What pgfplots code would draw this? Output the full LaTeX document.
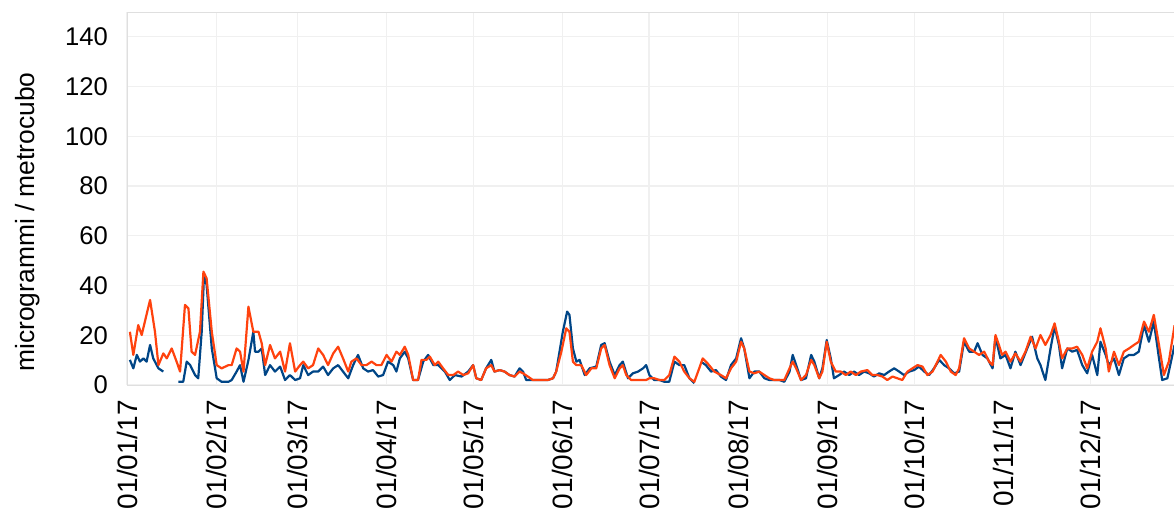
\documentclass[border=0pt]{standalone}
\usepackage{fontspec}
\setmainfont{Liberation Sans}
\usepackage{pgfplots}
\pgfplotsset{compat=1.18}
\definecolor{lblue}{HTML}{004586}
\definecolor{lorange}{HTML}{FF420E}
\begin{document}
\begin{tikzpicture}
\begin{axis}[
  scale only axis,
  width=523.5pt, height=186.5pt,
  xmin=0, xmax=363, ymin=0, ymax=150,
  axis line style={gray!25},
  ytick={0,20,...,140},
  xtick={0,31,59,90,120,151,181,212,243,273,304,334},
  xticklabels={01/01/17,01/02/17,01/03/17,01/04/17,01/05/17,01/06/17,01/07/17,01/08/17,01/09/17,01/10/17,01/11/17,01/12/17},
  xticklabel style={rotate=90, anchor=east, font=\fontsize{14}{16}\selectfont},
  yticklabel style={font=\fontsize{12.8}{15}\selectfont, xshift=-6pt},
  xticklabel shift=4pt,
  major tick length=0pt,
  grid=major,
  major grid style={gray!12, line width=0.6pt},
  ylabel={microgrammi / metrocubo},
  every axis y label/.style={at={(axis description cs:-0.0946,0.437)}, rotate=90, anchor=center, font=\fontsize{13.2}{15}\selectfont},
  /pgf/number format/assume math mode=true,
  unbounded coords=jump,
  clip=true,
  every axis plot/.append style={line width=1.1pt, line join=round, no markers},
]
\addplot[lblue] coordinates {
(1.0,10.1)(2.2,6.7)(3.4,12.1)(4.5,9.4)(5.7,10.7)(6.8,9.4)(8.0,16.1)(9.1,10.7)(10.9,6.7)(12.6,5.4)(13.5,nan)
(17.8,1.3)(19.5,1.3)(20.7,9.4)(21.9,8.0)(23.6,4.0)(24.7,2.7)(25.9,21.4)(26.7,44.2)(27.6,40.2)(29.4,14.7)
(31.1,2.7)(32.8,1.3)(35.2,1.3)(36.3,2.0)(38.0,5.4)(39.2,8.0)(40.4,1.3)(42.1,10.0)(43.8,21.4)(44.4,13.4)
(45.6,13.4)(46.7,14.7)(47.9,4.0)(49.6,8.0)(51.3,5.4)(53.1,7.4)(54.8,2.0)(56.5,4.0)(58.3,2.0)(60.0,2.7)
(61.1,8.0)(62.8,4.0)(64.5,5.4)(66.3,5.4)(68.0,7.4)(69.7,4.0)(71.5,6.7)(73.2,8.0)(74.9,5.4)(76.7,2.7)
(78.4,8.0)(80.1,12.1)(81.9,6.7)(83.6,5.4)(85.3,6.0)(87.1,3.4)(88.8,4.0)(90.5,9.4)(92.3,8.0)(93.4,5.4)
(94.6,10.7)(96.3,13.4)(97.5,10.7)(99.2,2.0)(100.9,2.0)(102.7,9.4)(104.4,12.1)(106.2,8.0)(107.9,8.0)
(110.2,5.4)(111.9,2.0)(113.7,4.0)(116.0,3.4)(118.3,5.4)(120.0,8.0)
(121.1,2.7)(122.8,2.0)(124.5,6.7)(126.3,10.1)(127.4,5.4)(129.2,6.0)(130.9,5.4)(132.6,4.0)(134.4,3.4)
(136.1,6.7)(137.3,5.4)(138.4,2.0)(140.7,2.0)(142.5,2.0)(144.2,2.0)(145.9,2.0)(147.7,2.7)(148.8,5.4)
(151.1,21.4)(152.6,29.5)(153.4,28.2)(154.6,14.7)(155.8,9.4)(156.9,10.1)(158.7,4.0)(160.4,6.7)(162.7,7.4)
(164.4,16.1)(165.6,16.8)(167.3,9.4)(169.1,4.0)(170.8,8.0)(171.9,9.4)(173.7,2.7)(175.4,4.7)(177.2,5.4)
(178.9,6.7)(180.0,8.0)
(181.1,4.0)(182.8,2.0)(184.6,2.0)(186.3,1.3)(188.0,1.3)(189.8,9.4)(191.5,8.0)(193.2,8.0)(195.0,2.7)
(196.7,0.7)(197.8,nan)(199.0,9.4)(200.7,8.0)(202.5,5.4)(204.2,6.0)(205.9,3.4)(207.7,2.0)(209.4,8.0)(211.2,10.7)
(212.9,18.8)(214.0,14.7)(215.8,2.7)(217.5,5.4)(219.2,5.4)(221.0,2.7)(222.7,2.0)(224.4,2.0)(226.2,2.0)
(227.9,1.3)(229.7,5.4)(230.8,12.1)(232.0,8.0)(233.7,2.0)(235.4,2.7)(237.2,12.1)(238.3,9.4)(240.0,2.7)
(241.1,6.7)(242.6,18.1)(244.0,10.7)(245.1,2.7)(246.9,4.0)(248.6,5.4)(250.4,4.0)(252.1,5.4)(253.8,4.0)
(255.6,5.4)(257.3,4.7)(259.0,3.4)(260.8,4.7)(262.5,4.0)(264.2,5.4)(266.0,6.7)(267.7,5.4)(269.4,4.0)
(271.2,5.4)(272.9,6.0)(274.6,7.4)(276.4,5.4)(278.1,4.0)(279.8,6.7)(281.6,10.1)(283.3,8.0)(285.0,6.7)
(286.8,4.7)(288.5,5.4)(290.2,17.4)(292.0,13.4)(293.7,13.4)(294.9,16.8)(296.6,12.1)(298.3,10.7)(300.1,6.7)
(301.1,19.4)(302.8,10.7)(304.6,12.1)(306.3,6.7)(308.0,13.4)(309.8,8.0)(312.1,14.7)(313.8,19.4)(315.6,10.7)
(316.7,8.0)(318.4,2.0)(320.2,14.7)(321.6,23.5)(323.1,16.1)(324.2,6.7)(326.0,14.7)(327.7,13.4)(329.4,14.1)
(331.2,8.0)(332.9,4.7)(334.6,12.1)(336.4,4.0)(337.5,17.4)(339.3,12.1)(340.4,8.0)(342.2,10.7)(343.9,4.0)
(345.6,10.7)(347.4,12.1)(349.1,12.1)(350.8,13.4)(352.6,24.1)(354.3,17.4)(356.0,25.5)(357.8,10.7)(358.9,2.0)
(360.7,2.7)(363.2,16.1)
};
\addplot[lorange] coordinates {
(1.0,21.4)(2.2,12.1)(3.9,24.1)(5.1,20.1)(6.2,25.5)(8.0,34.2)(9.7,21.4)(10.9,8.0)(12.6,12.7)(13.8,10.7)
(15.5,14.7)(17.2,9.4)(18.4,5.4)(20.1,32.2)(21.3,30.8)(22.4,13.4)(23.6,12.1)(25.3,21.4)(26.5,45.6)(27.6,42.9)
(29.4,21.4)(31.1,8.0)(32.8,6.7)(35.2,8.0)(36.3,8.0)(38.0,14.7)(39.2,13.4)(40.4,5.4)(42.1,31.5)(43.8,21.4)
(45.6,21.4)(46.7,16.8)(47.9,8.0)(49.6,16.1)(51.3,10.7)(53.1,13.4)(54.8,5.4)(56.5,16.8)(58.3,5.4)(60.0,8.0)
(61.1,9.4)(62.8,6.7)(64.5,8.0)(66.3,14.7)(68.0,12.1)(69.7,8.0)(71.5,12.7)(73.2,15.4)(74.9,10.7)(76.7,5.4)
(77.8,9.4)(79.6,10.7)(81.3,8.0)(83.0,8.0)(84.8,9.4)(86.5,8.0)(88.2,8.0)(90.0,12.1)(91.7,9.4)(93.4,13.4)
(94.6,12.1)(96.3,15.4)(97.5,12.1)(99.2,2.0)(100.9,2.0)(102.1,10.1)(103.8,10.1)(105.0,11.4)(106.7,8.0)
(107.9,9.4)(109.6,6.7)(111.4,4.0)(113.1,4.0)(114.8,5.4)(116.6,4.0)(118.3,4.7)(120.0,8.0)
(121.1,2.7)(122.8,2.0)(124.5,6.7)(126.3,8.0)(127.4,5.4)(129.2,6.0)(130.9,5.4)(132.6,4.0)(134.4,3.4)
(136.1,5.4)(137.3,4.7)(139.0,3.4)(140.7,2.0)(142.5,2.0)(144.2,2.0)(145.9,2.0)(147.7,2.7)(148.8,5.4)
(150.6,13.4)(152.3,22.8)(153.4,21.4)(154.6,9.4)(155.8,8.0)(157.5,8.0)(159.2,4.0)(161.0,6.7)(162.7,6.7)
(164.4,14.7)(165.6,16.1)(167.3,8.0)(169.1,2.7)(170.8,6.7)(171.9,8.0)(173.1,4.0)(174.8,2.0)(177.2,2.0)
(180.0,2.0)
(181.1,2.7)(182.8,2.7)(184.6,2.0)(186.3,2.0)(188.0,4.0)(189.8,11.4)(191.5,9.4)(193.2,5.4)(195.0,2.7)
(196.7,1.3)(198.4,6.7)(199.6,10.7)(201.3,8.7)(203.6,5.4)(205.9,4.0)(207.7,2.7)(209.4,6.7)(211.2,9.4)
(212.9,17.4)(214.0,14.7)(215.8,5.4)(217.5,4.7)(219.2,5.4)(221.0,4.0)(222.7,2.7)(224.4,2.0)(226.2,2.0)
(227.9,2.0)(229.7,6.7)(230.8,9.4)(232.0,6.7)(233.7,2.0)(235.4,4.0)(237.2,10.1)(238.3,8.0)(240.0,2.7)
(241.1,5.4)(242.6,17.4)(244.0,9.4)(245.7,5.4)(247.5,5.4)(249.2,4.0)(250.9,5.4)(252.7,4.0)(254.4,5.4)
(256.7,6.0)(258.4,4.0)(260.2,4.0)(261.9,3.4)(263.6,2.0)(265.4,3.4)(267.1,2.7)(268.8,2.0)(270.6,5.4)
(272.3,6.7)(274.1,8.0)(275.8,7.4)(277.5,4.0)(279.3,5.4)(281.0,9.4)(282.1,12.1)(283.9,9.4)(285.6,5.4)
(287.3,4.0)(288.5,6.7)(290.2,18.8)(292.0,14.7)(293.7,13.4)(295.4,12.1)(297.2,13.4)(298.9,9.4)(300.1,8.0)
(301.1,20.1)(302.3,16.1)(303.4,12.1)(304.6,13.4)(306.3,9.4)(308.0,12.7)(309.8,9.4)(311.5,13.4)(313.3,19.4)
(315.0,14.7)(316.7,20.1)(318.4,16.1)(320.2,20.1)(321.6,24.8)(323.1,17.4)(324.2,10.7)(326.0,14.7)(327.7,14.7)
(329.4,15.4)(331.2,12.1)(332.9,6.7)(334.6,13.4)(336.4,17.4)(337.5,22.8)(339.3,14.7)(340.4,5.4)(342.2,13.4)
(343.9,8.0)(345.6,13.4)(347.4,14.7)(349.1,16.1)(350.8,17.4)(352.6,25.5)(354.3,21.4)(356.0,28.2)(357.8,16.1)
(359.5,4.0)(361.2,9.4)(363.2,24.0)
};
\end{axis}
\pgfresetboundingbox
\path[use as bounding box] (-63.5pt,-64.5pt) rectangle (523.5pt,192.5pt);
\end{tikzpicture}
\end{document}
